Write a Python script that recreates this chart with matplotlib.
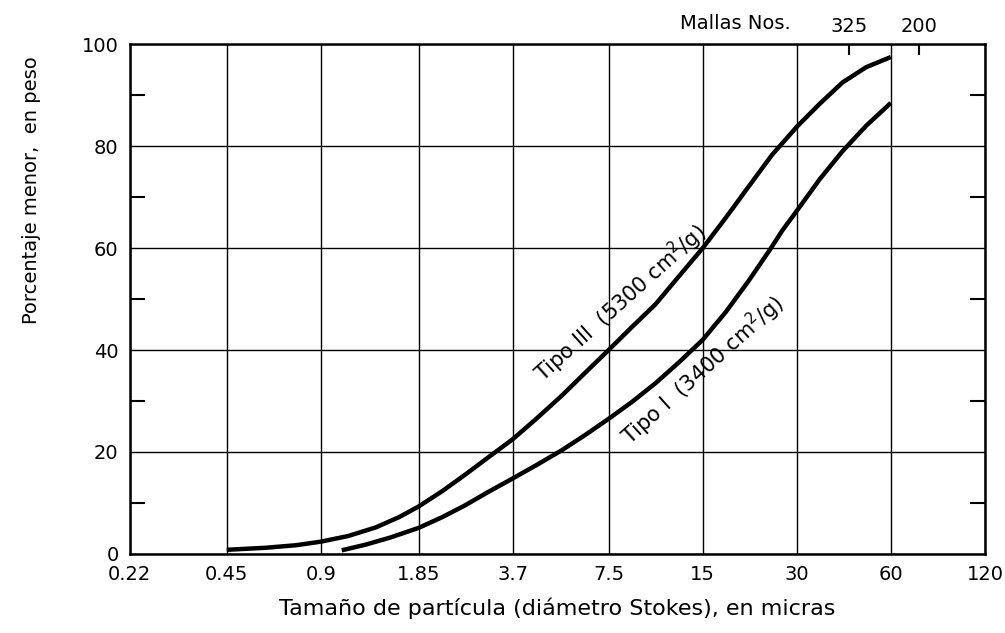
import matplotlib
matplotlib.use("Agg")
import matplotlib.pyplot as plt
from matplotlib.ticker import FixedLocator, FixedFormatter, NullFormatter

# ---- data ----
x_ticks = [0.22, 0.45, 0.9, 1.85, 3.7, 7.5, 15, 30, 60, 120]
x_tick_labels = ["0.22", "0.45", "0.9", "1.85", "3.7", "7.5", "15", "30", "60", "120"]
y_ticks = [0, 20, 40, 60, 80, 100]
y_minor = [10, 30, 50, 70, 90]

tipo3_x = [0.45, 0.6, 0.75, 0.9, 1.1, 1.35, 1.6, 1.85, 2.2, 2.6, 3.1, 3.7, 4.4, 5.3,
           6.3, 7.5, 8.9, 10.6, 12.6, 15, 17.8, 21, 25, 30, 35.5, 42, 50, 60]
tipo3_y = [0.8, 1.2, 1.7, 2.4, 3.5, 5.2, 7.2, 9.3, 12.3, 15.5, 19.0, 22.5, 26.5, 31.0,
           35.5, 40.0, 44.5, 49.0, 54.5, 60.0, 66.0, 72.0, 78.3, 83.8, 88.3, 92.5, 95.5, 97.5]

tipo1_x = [1.05, 1.25, 1.5, 1.85, 2.2, 2.6, 3.1, 3.7, 4.4, 5.3, 6.3, 7.5, 8.9, 10.6,
           12.6, 15, 17.8, 21, 24.5, 27, 30, 35.5, 42, 50, 60]
tipo1_y = [0.7, 1.8, 3.2, 5.1, 7.2, 9.5, 12.2, 14.8, 17.4, 20.3, 23.3, 26.5, 29.8, 33.5,
           37.6, 42.0, 47.5, 53.5, 59.5, 63.5, 67.3, 73.5, 79.0, 84.0, 88.5]

mesh_um = [44, 74]
mesh_labels = ["325", "200"]

label_tipo3 = "Tipo III  (5300 cm$^2$/g)"
label_tipo1 = "Tipo I  (3400 cm$^2$/g)"

# ---- figure ----
plt.rcParams["font.family"] = ["DejaVu Sans"]
fig = plt.figure(figsize=(10.05, 6.33), dpi=100)
ax = fig.add_axes([0.129, 0.125, 0.851, 0.805])

ax.set_xscale("log")
ax.set_xlim(0.22, 120)
ax.set_ylim(0, 100)

ax.xaxis.set_major_locator(FixedLocator(x_ticks))
ax.xaxis.set_major_formatter(FixedFormatter(x_tick_labels))
ax.xaxis.set_minor_locator(FixedLocator([]))
ax.xaxis.set_minor_formatter(NullFormatter())
ax.yaxis.set_major_locator(FixedLocator(y_ticks))
ax.yaxis.set_minor_locator(FixedLocator(y_minor))

ax.grid(True, which="major", color="black", linewidth=1.0)
ax.tick_params(axis="both", which="major", length=0, labelsize=14, pad=8)
ax.tick_params(axis="y", which="minor", direction="in", length=11, width=1.5,
               left=True, right=True)
for s in ax.spines.values():
    s.set_linewidth(1.8)
    s.set_color("black")

ax.plot(tipo3_x, tipo3_y, color="black", linewidth=3.2, solid_capstyle="butt",
        solid_joinstyle="round")
ax.plot(tipo1_x, tipo1_y, color="black", linewidth=3.2, solid_capstyle="butt",
        solid_joinstyle="round")

ax.text(8.2, 49.3, label_tipo3, rotation=42, ha="center", va="center", fontsize=15)
ax.text(15.0, 36.0, label_tipo1, rotation=42, ha="center", va="center", fontsize=15)

ax.set_xlabel("Tamaño de partícula (diámetro Stokes), en micras", fontsize=16, labelpad=10)
ax.set_ylabel("Porcentaje menor,  en peso", fontsize=14)
ax.yaxis.set_label_coords(-0.104, 0.714)

# top mesh axis
top = ax.twiny()
top.set_xscale("log")
top.set_xlim(ax.get_xlim())
top.xaxis.set_major_locator(FixedLocator(mesh_um))
top.xaxis.set_major_formatter(FixedFormatter(mesh_labels))
top.xaxis.set_minor_locator(FixedLocator([]))
top.tick_params(axis="x", which="major", direction="in", length=8, width=1.5,
                labelsize=14, pad=6)
top.text(0.708, 1.022, "Mallas Nos.", transform=ax.transAxes, fontsize=14,
         ha="center", va="bottom")
for s in top.spines.values():
    s.set_visible(False)

fig.savefig("out.png", dpi=100)
